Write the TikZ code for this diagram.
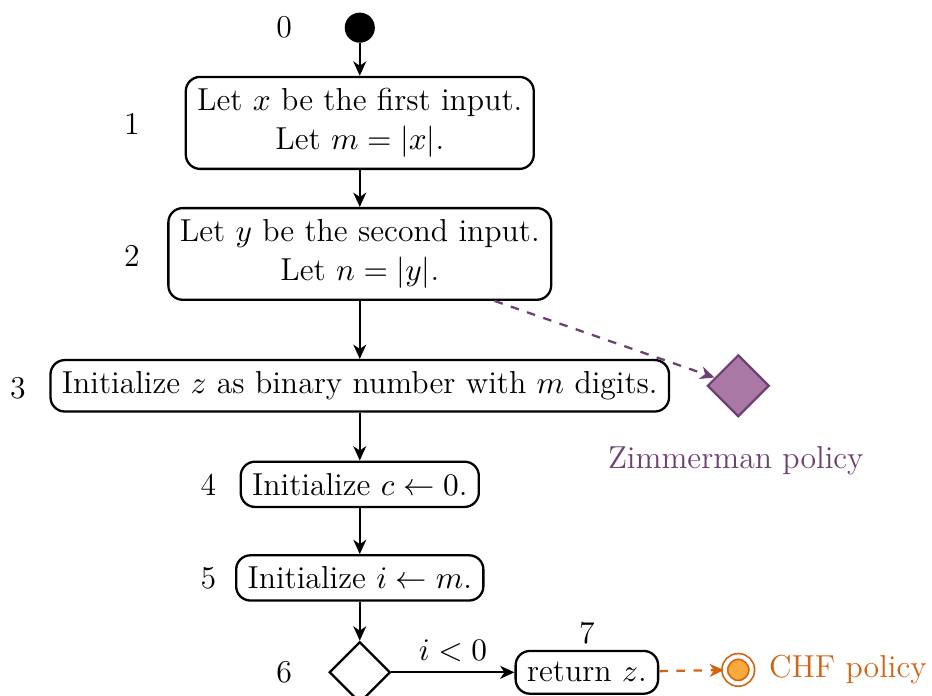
\documentclass[tikz,border=0pt]{standalone}
\usepackage{amsmath}
\usepackage{amssymb}
\usepackage{xcolor}
\usetikzlibrary{shapes.geometric,positioning,arrows.meta}

\definecolor{zimcol}{RGB}{110,65,115}
\definecolor{zimfill}{RGB}{170,120,165}
\definecolor{chfcol}{RGB}{210,100,20}
\definecolor{chffill}{RGB}{250,170,60}

\tikzset{
	stepbox/.style={draw, thick, rounded corners=5pt, align=center, inner sep=4pt},
	choice/.style={draw, thick, diamond, minimum size=0.75cm, inner sep=0pt},
	flow/.style={-{Stealth[length=5pt,width=4.5pt,inset=1.5pt]}, thick},
	policy/.style={-{Stealth[length=5pt,width=4.5pt,inset=1.5pt]}, thick, dashed}
}

\begin{document}
\begin{tikzpicture}[font=\fontsize{11.1}{13.6}\selectfont]
	\useasboundingbox (0,0) rectangle (11.45,8.55);
	
	\node[circle, fill=black, minimum size=0.37cm, inner sep=0pt] (start) at (4.42, 8.21) {};
	\node (n0) at (3.49, 8.21) {0};
	
	\node[stepbox] (s1) at (4.42, 7.04) {Let $x$ be the first input.\\ Let $m = |x|$.};
	\node (n1) at (1.62, 7.03) {1};
	
	\node[stepbox] (s2) at (4.42, 5.43) {Let $y$ be the second input.\\ Let $n = |y|$.};
	\node (n2) at (1.62, 5.41) {2};
	
	\node[stepbox] (s3) at (4.42, 3.81) {Initialize $z$ as binary number with $m$ digits.};
	\node (n3) at (0.22, 3.78) {3};
	
	\node[stepbox] (s4) at (4.42, 2.60) {Initialize $c \leftarrow 0$.};
	\node (n4) at (2.56, 2.60) {4};
	
	\node[stepbox] (s5) at (4.42, 1.45) {Initialize $i \leftarrow m$.};
	\node (n5) at (2.56, 1.45) {5};
	
	\node[choice] (s6) at (4.42, 0.29) {};
	\node (n6) at (3.49, 0.29) {6};
	
	\node[stepbox] (s7) at (7.21, 0.29) {return $z$.};
	\node (n7) at (7.21, 0.77) {7};
	
	% policies
	\node[diamond, draw=zimcol, fill=zimfill, thick, minimum size=0.76cm, inner sep=0pt] (zim) at (9.07, 3.81) {};
	\node[text=zimcol] (zimlabel) at (9.04, 2.89) {Zimmerman policy};
	
	\node[circle, draw=chfcol, fill=chffill, semithick, double=white, double distance=1.4pt, minimum size=0.33cm, inner sep=0pt] (chf) at (9.07, 0.32) {};
	\node[text=chfcol, right=0.08cm of chf] (chflabel) {CHF policy};
	
	\draw[flow] (start) -- (s1);
	\draw[flow] (s1) -- (s2);
	\draw[flow] (s2) -- (s3);
	\draw[flow] (s3) -- (s4);
	\draw[flow] (s4) -- (s5);
	\draw[flow] (s5) -- (s6);
	\draw[flow] (s6) -- node[above] {$i < 0$} (s7);
	
	\draw[policy, zimcol] (s2) -- (zim);
	\draw[policy, chfcol] (s7) -- (chf);
\end{tikzpicture}
\end{document}
